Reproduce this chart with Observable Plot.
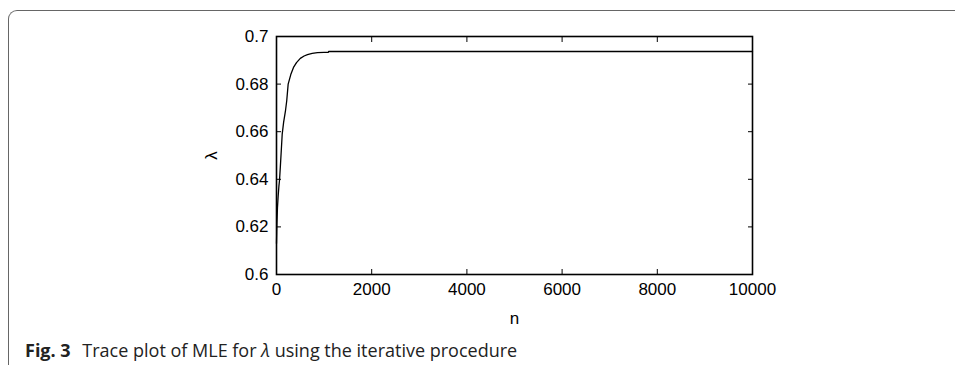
<!DOCTYPE html>
<html>
<head>
<meta charset="utf-8">
<script src="https://cdn.jsdelivr.net/npm/d3@7"></script>
<script src="https://cdn.jsdelivr.net/npm/@observablehq/plot@0.6"></script>
<style>
  html, body { margin: 0; padding: 0; background: #fff; }
  body { width: 955px; height: 365px; position: relative; overflow: hidden; }
  #frame { position: absolute; left: 8px; top: 10px; width: 1000px; height: 400px;
           border-left: 1.3px solid #666; border-top: 1.3px solid #666; border-top-left-radius: 9px; }
  #chart { position: absolute; left: 0; top: 0; }
  #caption { position: absolute; left: 25px; top: 340px; font-family: "Open Sans", sans-serif;
             font-size: 18px; color: #222; white-space: nowrap; line-height: 20px; }
  #caption b { font-weight: 700; margin-right: 7px; }
</style>
</head>
<body>
<div id="frame"></div>
<div id="chart"></div>
<div id="caption"><b>Fig. 3</b> Trace plot of MLE for <i>λ</i> using the iterative procedure</div>
<script>
// Iteration index n and MLE estimate λ
const nValues = [0, 5, 10, 20, 35, 50, 63, 80, 100, 120, 150, 190, 215, 245, 300, 357, 420, 500, 580, 650, 750, 860, 1000, 1090, 1095, 10000];
const lambdaValues = [0.613, 0.618, 0.622, 0.628, 0.633, 0.637, 0.6395, 0.645, 0.652, 0.659, 0.664, 0.669, 0.673, 0.680, 0.684, 0.687, 0.689, 0.6908, 0.6918, 0.6924, 0.6929, 0.6932, 0.6933, 0.6933, 0.6937, 0.6937];
const xTicks = [0, 2000, 4000, 6000, 8000, 10000];
const xTickLabels = ["0", "2000", "4000", "6000", "8000", "10000"];
const yTicks = [0.6, 0.62, 0.64, 0.66, 0.68, 0.7];
const yTickLabels = ["0.6", "0.62", "0.64", "0.66", "0.68", "0.7"];
const xLabel = "n";
const yLabel = "λ";

const data = nValues.map((n, i) => ({n, lambda: lambdaValues[i]}));
const xFmt = d => xTickLabels[xTicks.indexOf(d)];
const yFmt = d => yTickLabels[yTicks.findIndex(t => Math.abs(t - d) < 1e-9)];
const blank = () => "";

const chart = Plot.plot({
  width: 955,
  height: 330,
  marginLeft: 276,
  marginRight: 203,
  marginTop: 36,
  marginBottom: 56,
  style: {fontFamily: "'Liberation Sans', Arial, sans-serif", fontSize: "17px", color: "#000", background: "transparent"},
  x: {domain: [0, 10000]},
  y: {domain: [0.6, 0.7]},
  marks: [
    Plot.axisX({anchor: "bottom", ticks: xTicks, tickFormat: xFmt, tickSize: -5, tickPadding: 13,
                label: xLabel, labelAnchor: "center", labelArrow: "none", labelOffset: 49, fontSize: 17}),
    Plot.axisX({anchor: "top", ticks: xTicks, tickFormat: blank, tickSize: -5, label: null}),
    Plot.axisY({anchor: "left", ticks: yTicks, tickFormat: yFmt, tickSize: -5, tickPadding: 13,
                label: yLabel, labelAnchor: "center", labelArrow: "none", labelOffset: 72, fontSize: 17}),
    Plot.axisY({anchor: "right", ticks: yTicks, tickFormat: blank, tickSize: -5, label: null}),
    Plot.line(data, {x: "n", y: "lambda", stroke: "#000", strokeWidth: 1.3}),
    Plot.frame({stroke: "#000", strokeWidth: 1.6})
  ]
});
document.getElementById("chart").appendChild(chart);
</script>
</body>
</html>
